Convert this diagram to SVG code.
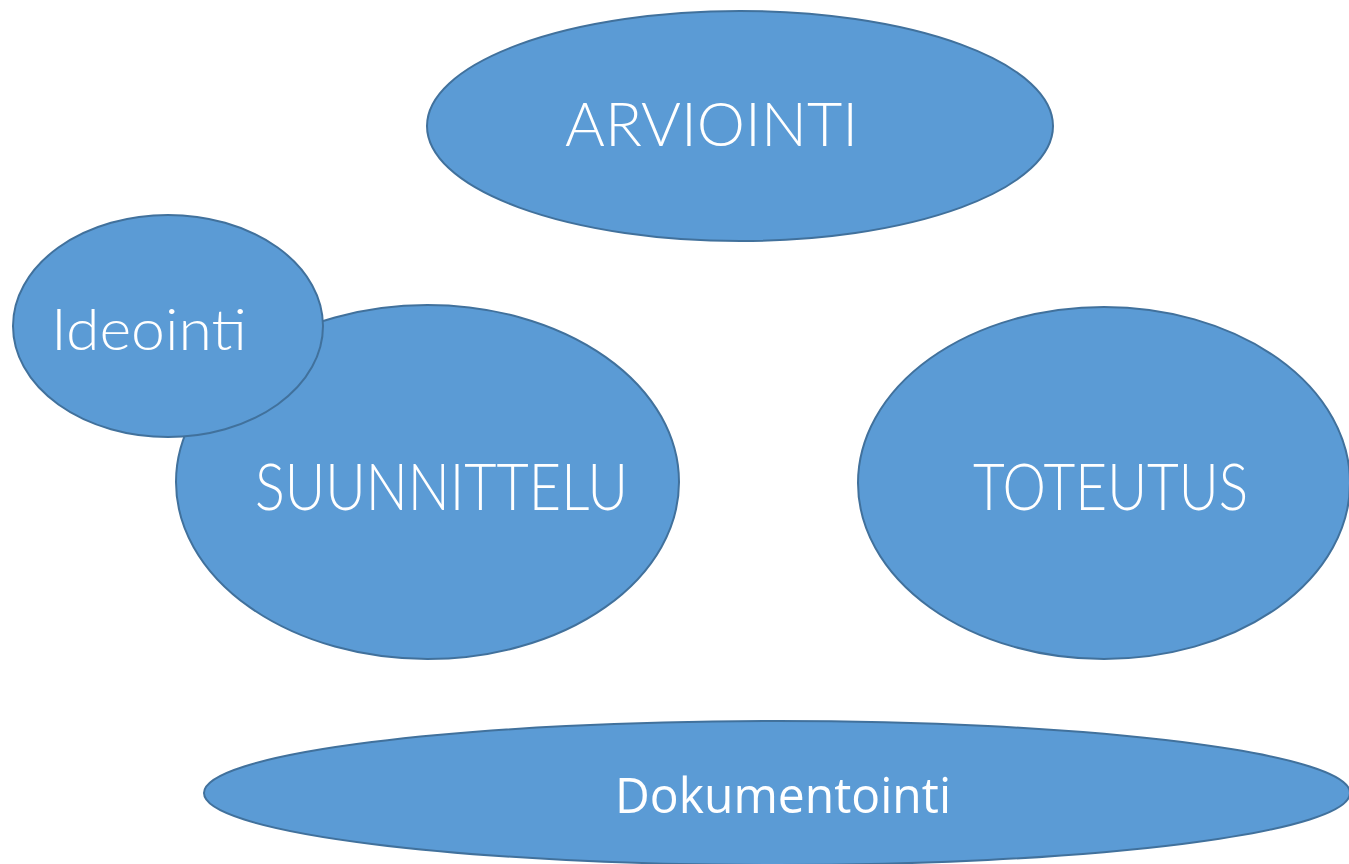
<svg xmlns="http://www.w3.org/2000/svg" width="1349" height="864" viewBox="0 0 1349 864">
<style>
.n{fill:#5B9BD5;stroke:#41719C;stroke-width:2}
.t{fill:#FFFFFF;font-family:Lato,"Liberation Sans",sans-serif;font-weight:300}
.c{fill:#FFFFFF;font-family:"Open Sans","Liberation Sans",sans-serif}
</style>
<rect width="1349" height="864" fill="#FFFFFF"/>
<g id="connectors"></g>
<g id="arviointi">
<ellipse class="n" cx="740" cy="126" rx="313" ry="115"/>
<text class="t" x="565" y="146" font-size="62" textLength="293" lengthAdjust="spacingAndGlyphs">ARVIOINTI</text>
</g>
<g id="suunnittelu">
<ellipse class="n" cx="427.5" cy="482" rx="251.5" ry="177"/>
<text class="t" x="255" y="510" font-size="65" textLength="373" lengthAdjust="spacingAndGlyphs">SUUNNITTELU</text>
</g>
<g id="ideointi">
<ellipse class="n" cx="168" cy="326" rx="155" ry="111"/>
<text class="t" x="51" y="350" font-size="58" textLength="196" lengthAdjust="spacingAndGlyphs">Ideointi</text>
</g>
<g id="toteutus">
<ellipse class="n" cx="1104" cy="483" rx="246" ry="176"/>
<text class="t" x="973" y="510" font-size="65" textLength="275" lengthAdjust="spacingAndGlyphs">TOTEUTUS</text>
</g>
<g id="dokumentointi">
<ellipse class="n" cx="777" cy="793" rx="573" ry="72"/>
<text class="c" x="615" y="813" font-size="50" textLength="336" lengthAdjust="spacingAndGlyphs">Dokumentointi</text>
</g>
</svg>
